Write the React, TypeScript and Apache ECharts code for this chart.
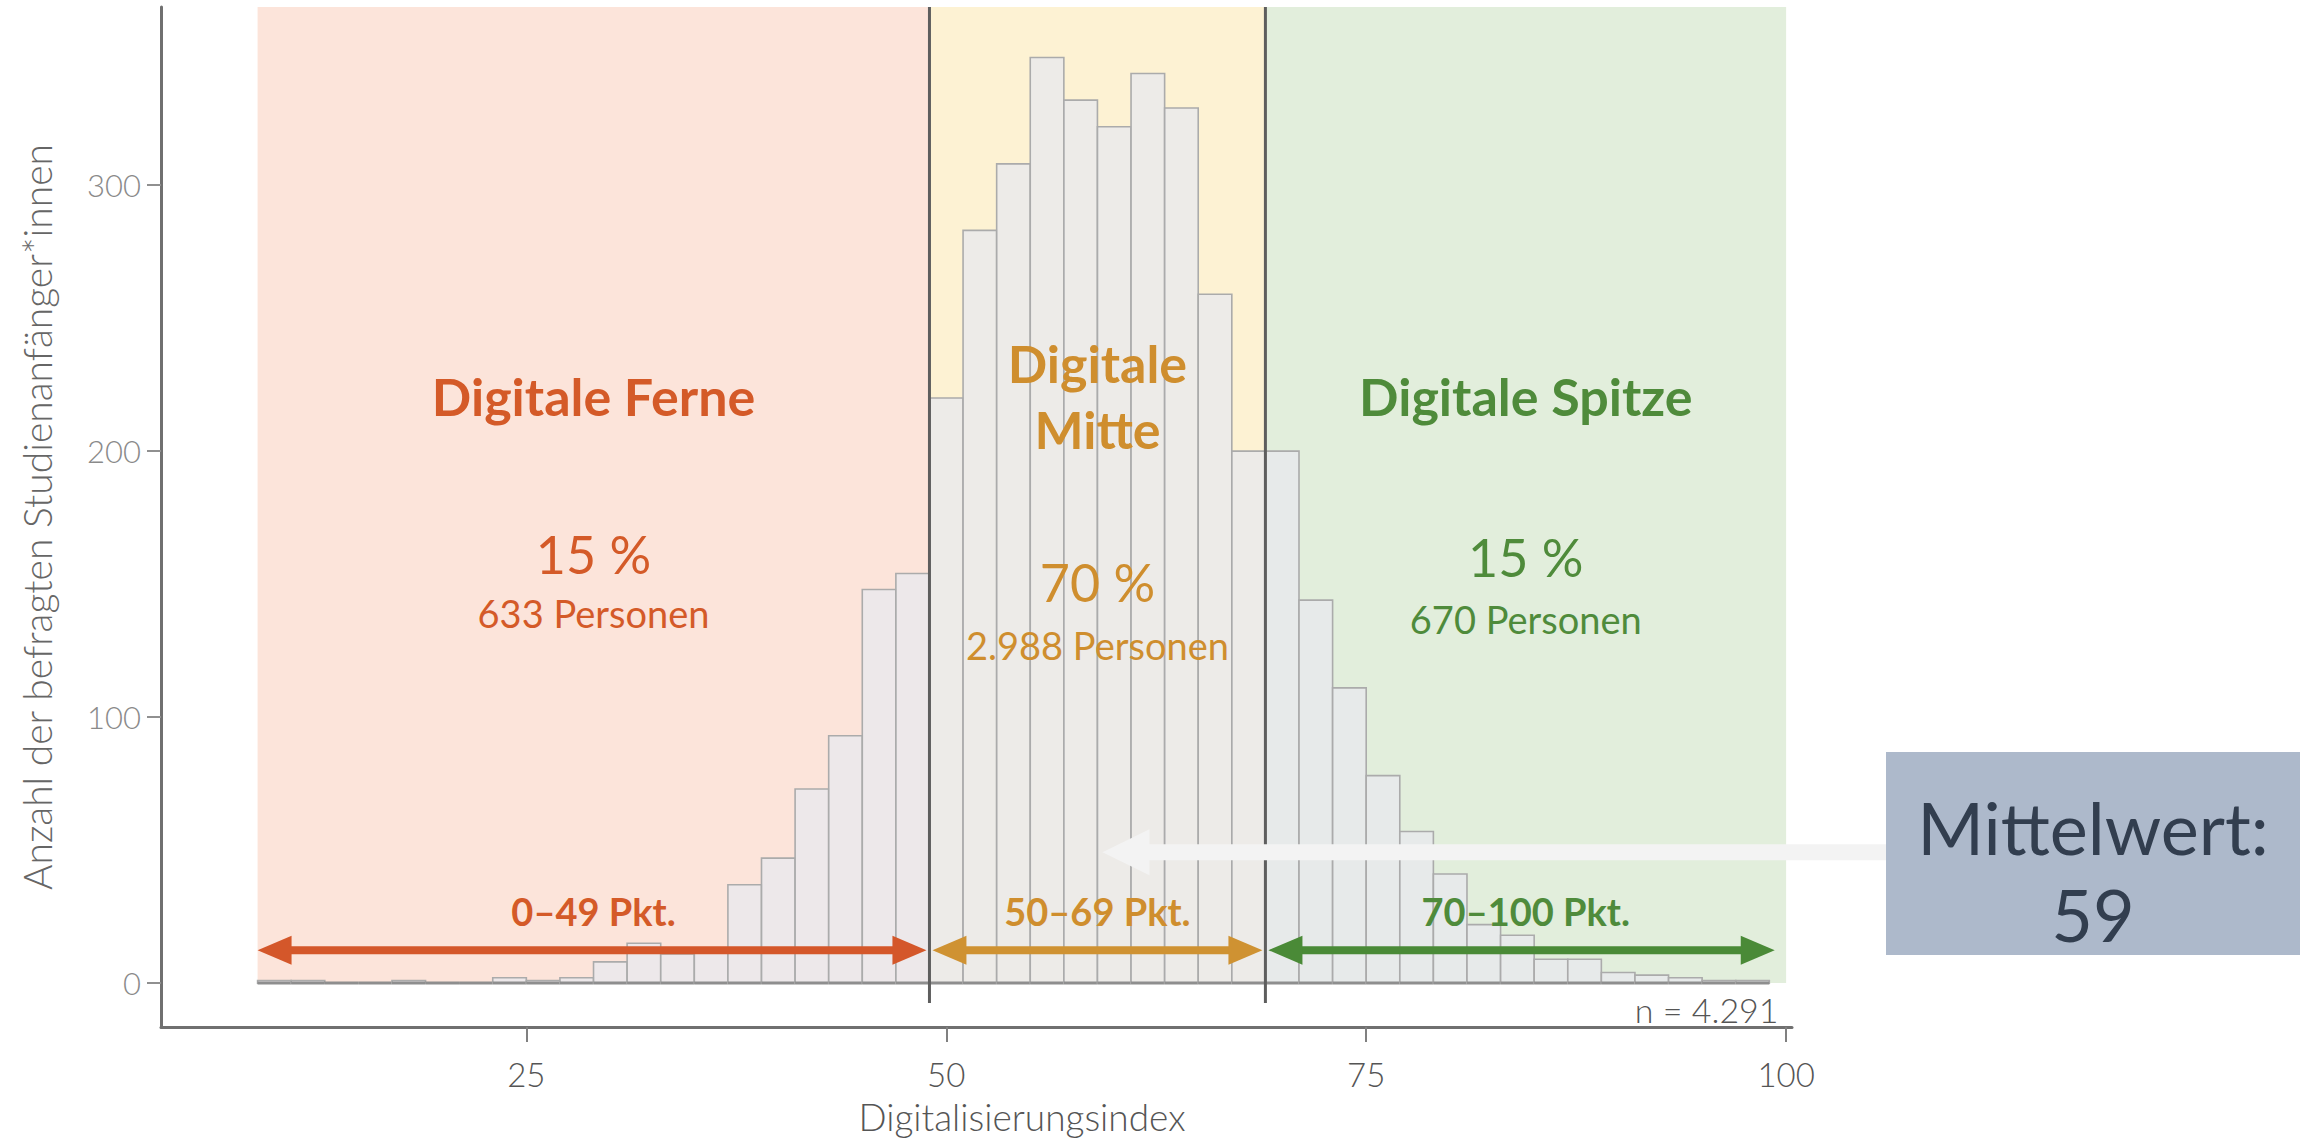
import React, { useEffect, useRef } from "react";
import * as echarts from "echarts";

// ---------- data ----------
const binStarts = [
  9, 11, 13, 15, 17, 19, 21, 23, 25, 27, 29, 31, 33, 35, 37, 39, 41, 43, 45, 47,
  49, 51, 53, 55, 57, 59, 61, 63, 65, 67,
  69, 71, 73, 75, 77, 79, 81, 83, 85, 87, 89, 91, 93, 95, 97,
];
const binWidth = 2;
const counts = [
  1, 1, 0, 0, 1, 0, 0, 2, 1, 2, 8, 15, 11, 13, 37, 47, 73, 93, 148, 154,
  220, 283, 308, 348, 332, 322, 342, 329, 259, 200,
  200, 144, 111, 78, 57, 41, 22, 18, 9, 9, 4, 3, 2, 1, 1,
];

const regionNames = ["Digitale Ferne", "Digitale\nMitte", "Digitale Spitze"];
const regionShares = ["15 %", "70 %", "15 %"];
const regionPersons = ["633 Personen", "2.988 Personen", "670 Personen"];
const regionRanges = ["0–49 Pkt.", "50–69 Pkt.", "70–100 Pkt."];
const regionFrom = [9, 49, 69];
const regionTo = [49, 69, 100];
const dividers = [49, 69];
const meanValue = 59;
const meanLabel = ["Mittelwert:", "59"];
const sampleLabel = "n = 4.291";
const xTicks = [25, 50, 75, 100];
const yTicks = [0, 100, 200, 300];
const xTitle = "Digitalisierungsindex";
const yTitle = "Anzahl der befragten Studienanfänger*innen";

// ---------- styles / layout ----------
const FONT = "Lato, 'Noto Sans', sans-serif";
const bandColors = ["#FCE4DA", "#FDF2D3", "#E2EEDC"];
const textColors = ["#D45A28", "#CF8E2E", "#4F8B3B"];
const arrowColors = ["#D4572A", "#CF9232", "#4A8A37"];

const X_MIN = 3.25;
const X_MAX = 100.35;
const Y_MIN = -16.5;
const Y_MAX = 367;
const TITLE_Y = 220.7;
const SHARE_Y = [161.3, 150.8, 160.2];
const PERSONS_Y = [139.1, 127.1, 136.8];
const RANGE_LABEL_Y = 27;
const ARROW_Y = 12.4;
const MEAN_ARROW_Y = 49.2;
const DIVIDER_BOTTOM = -7.5;

function buildOption(): any {
  const bars = binStarts.map((s, i) => [s, s + binWidth, counts[i]]);
  const regions = regionFrom.map((f, i) => [f, regionTo[i], i]);

  return {
    animation: false,
    backgroundColor: "#ffffff",
    grid: {
      left: 161,
      right: 508,
      top: 7,
      bottom: 114,
      containLabel: false,
      outerBoundsMode: "none",
    },
    xAxis: {
      type: "value",
      min: X_MIN,
      max: X_MAX,
      splitLine: { show: false },
      axisLine: { show: true, onZero: false, lineStyle: { color: "#707070", width: 3 } },
      axisTick: {
        show: true,
        customValues: xTicks,
        length: 15,
        lineStyle: { color: "#808080", width: 2 },
      },
      axisLabel: {
        customValues: xTicks,
        margin: 30,
        fontSize: 33,
        fontFamily: FONT,
        fontWeight: 300,
        color: "#555555",
      },
    },
    yAxis: {
      type: "value",
      min: Y_MIN,
      max: Y_MAX,
      splitLine: { show: false },
      axisLine: { show: true, onZero: false, lineStyle: { color: "#707070", width: 3 } },
      axisTick: {
        show: true,
        customValues: yTicks,
        length: 14,
        lineStyle: { color: "#909090", width: 2 },
      },
      axisLabel: {
        customValues: yTicks,
        margin: 20,
        fontSize: 31,
        fontFamily: FONT,
        fontWeight: 300,
        color: "#8A8A8A",
      },
      name: yTitle,
      nameLocation: "middle",
      nameRotate: 90,
      nameGap: 124,
      nameTextStyle: {
        fontSize: 39,
        fontFamily: FONT,
        fontWeight: 300,
        color: "#666666",
        verticalAlign: "middle",
        padding: [0, 0, 0, 0],
      },
    },
    series: [
      // colored bands
      {
        type: "custom",
        z: 1,
        silent: true,
        data: regions,
        encode: { x: [0, 1] },
        renderItem: (params: any, api: any) => {
          const i = api.value(2);
          const a = api.coord([api.value(0), Y_MAX]);
          const b = api.coord([api.value(1), 0]);
          return {
            type: "rect",
            shape: { x: a[0], y: a[1], width: b[0] - a[0], height: b[1] - a[1] },
            style: { fill: bandColors[i] },
          };
        },
      },
      // histogram bars
      {
        type: "custom",
        z: 2,
        silent: true,
        data: bars,
        encode: { x: [0, 1], y: 2 },
        renderItem: (params: any, api: any) => {
          const a = api.coord([api.value(0), api.value(2)]);
          const b = api.coord([api.value(1), 0]);
          return {
            type: "group",
            children: [
              {
                type: "rect",
                shape: { x: a[0], y: a[1], width: b[0] - a[0], height: b[1] - a[1] },
                style: { fill: "rgba(232,233,238,0.78)", stroke: "#ABABAB", lineWidth: 1.6 },
              },
              {
                type: "line",
                shape: { x1: a[0], y1: b[1], x2: b[0], y2: b[1] },
                style: { stroke: "#8E8E8E", lineWidth: 3 },
              },
            ],
          };
        },
      },
      // region texts
      {
        type: "custom",
        z: 3,
        silent: true,
        data: regions,
        encode: { x: [0, 1] },
        renderItem: (params: any, api: any) => {
          const i = api.value(2);
          const cx = (api.value(0) + api.value(1)) / 2;
          const pt = api.coord([cx, TITLE_Y]);
          const ps = api.coord([cx, SHARE_Y[i]]);
          const pp = api.coord([cx, PERSONS_Y[i]]);
          const col = textColors[i];
          return {
            type: "group",
            children: [
              {
                type: "text",
                x: pt[0],
                y: pt[1],
                style: {
                  text: regionNames[i],
                  fill: col,
                  fontSize: 52,
                  fontWeight: 700,
                  fontFamily: FONT,
                  lineHeight: 66,
                  align: "center",
                  verticalAlign: "middle",
                },
              },
              {
                type: "text",
                x: ps[0],
                y: ps[1],
                style: {
                  text: regionShares[i],
                  fill: col,
                  fontSize: 52,
                  fontWeight: 400,
                  fontFamily: FONT,
                  align: "center",
                  verticalAlign: "middle",
                },
              },
              {
                type: "text",
                x: pp[0],
                y: pp[1],
                style: {
                  text: regionPersons[i],
                  fill: col,
                  fontSize: 38,
                  fontWeight: 400,
                  fontFamily: FONT,
                  align: "center",
                  verticalAlign: "middle",
                },
              },
            ],
          };
        },
      },
      // dividers
      {
        type: "custom",
        z: 4,
        silent: true,
        data: dividers.map((d) => [d]),
        encode: { x: 0 },
        renderItem: (params: any, api: any) => {
          const a = api.coord([api.value(0), DIVIDER_BOTTOM]);
          const b = api.coord([api.value(0), Y_MAX]);
          return {
            type: "line",
            shape: { x1: a[0], y1: a[1], x2: b[0], y2: b[1] },
            style: { stroke: "#5E5E5E", lineWidth: 3 },
          };
        },
      },
      // range arrows with labels
      {
        type: "custom",
        z: 5,
        silent: true,
        data: regions,
        encode: { x: [0, 1] },
        renderItem: (params: any, api: any) => {
          const i = api.value(2);
          const to = i === 2 ? 99.5 : api.value(1);
          const a = api.coord([api.value(0), ARROW_Y]);
          const b = api.coord([to, ARROW_Y]);
          const x0 = a[0] + (i > 0 ? 3 : 0);
          const x1 = b[0] - 3;
          const y = a[1];
          const L = 34;
          const H = 14.5;
          const col = arrowColors[i];
          const lc = api.coord([(api.value(0) + api.value(1)) / 2, RANGE_LABEL_Y]);
          return {
            type: "group",
            children: [
              {
                type: "line",
                shape: { x1: x0 + L - 2, y1: y, x2: x1 - L + 2, y2: y },
                style: { stroke: col, lineWidth: 8 },
              },
              {
                type: "polygon",
                shape: { points: [[x0, y], [x0 + L, y - H], [x0 + L, y + H]] },
                style: { fill: col },
              },
              {
                type: "polygon",
                shape: { points: [[x1, y], [x1 - L, y - H], [x1 - L, y + H]] },
                style: { fill: col },
              },
              {
                type: "text",
                x: lc[0],
                y: lc[1],
                style: {
                  text: regionRanges[i],
                  fill: textColors[i],
                  fontSize: 38,
                  fontWeight: 700,
                  fontFamily: FONT,
                  align: "center",
                  verticalAlign: "middle",
                },
              },
            ],
          };
        },
      },
      // sample size label
      {
        type: "custom",
        z: 5,
        silent: true,
        data: [[99.55, -9.8]],
        encode: { x: 0, y: 1 },
        renderItem: (params: any, api: any) => {
          const p = api.coord([api.value(0), api.value(1)]);
          return {
            type: "text",
            x: p[0],
            y: p[1],
            style: {
              text: sampleLabel,
              fill: "#555555",
              fontSize: 34,
              fontWeight: 300,
              fontFamily: FONT,
              align: "right",
              verticalAlign: "middle",
            },
          };
        },
      },
      // mean arrow
      {
        type: "custom",
        z: 6,
        silent: true,
        data: [[meanValue]],
        encode: { x: 0 },
        renderItem: (params: any, api: any) => {
          const p = api.coord([api.value(0), MEAN_ARROW_Y]);
          const tip = p[0] + 5;
          const y = p[1];
          const L = 47;
          const H = 23;
          const boxLeft = api.getWidth() - 414;
          return {
            type: "group",
            children: [
              {
                type: "rect",
                shape: { x: tip + L - 1, y: y - 8, width: boxLeft - (tip + L - 1), height: 16 },
                style: { fill: "#F3F3F3" },
              },
              {
                type: "polygon",
                shape: { points: [[tip, y], [tip + L, y - H], [tip + L, y + H]] },
                style: { fill: "#F3F3F3" },
              },
            ],
          };
        },
      },
    ],
    graphic: [
      {
        type: "text",
        x: 1022,
        y: 1116,
        style: {
          text: xTitle,
          fill: "#555555",
          fontSize: 37,
          fontWeight: 300,
          fontFamily: FONT,
          align: "center",
          verticalAlign: "middle",
        },
      },
      {
        type: "rect",
        z: 10,
        shape: { x: 1886, y: 752, width: 414, height: 203 },
        style: { fill: "#ADB9CB" },
      },
      {
        type: "text",
        z: 11,
        x: 2093,
        y: 870,
        style: {
          text: meanLabel.join("\n"),
          fill: "#323E4F",
          fontSize: 72,
          lineHeight: 87,
          fontWeight: 400,
          fontFamily: FONT,
          align: "center",
          verticalAlign: "middle",
        },
      },
    ],
  };
}

export default function App() {
  const ref = useRef<HTMLDivElement>(null);
  useEffect(() => {
    document.body.style.margin = "0";
    document.body.style.overflow = "hidden";
    const chart = echarts.init(ref.current!, null, { renderer: "svg" });
    chart.setOption(buildOption());
    return () => chart.dispose();
  }, []);
  return <div ref={ref} style={{ width: 2300, height: 1141 }} />;
}
